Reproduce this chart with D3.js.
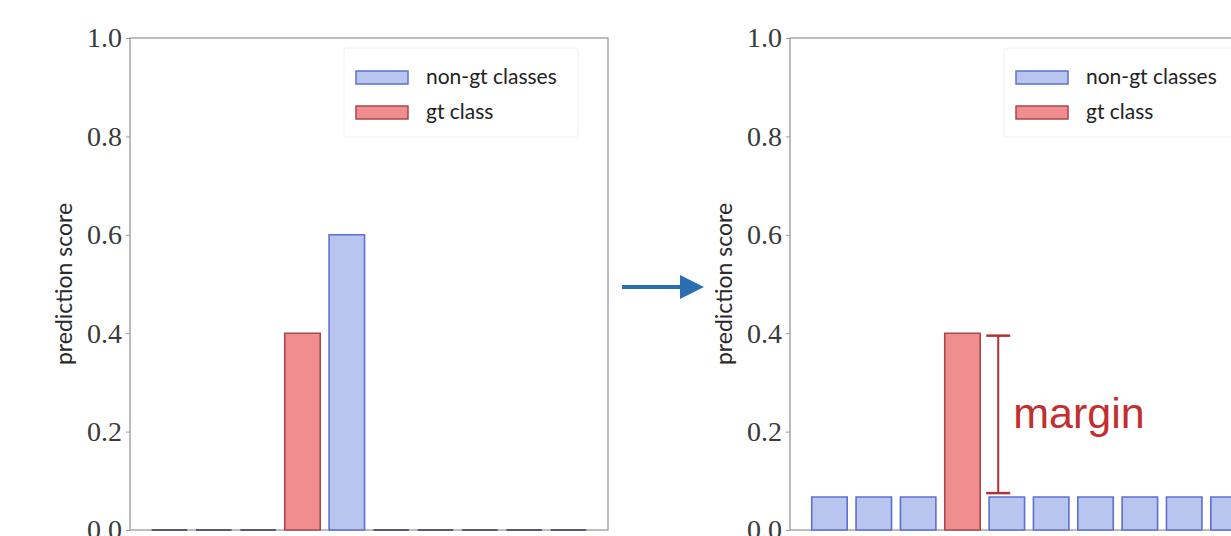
<!DOCTYPE html>
<html>
<head>
<meta charset="utf-8">
<script src="https://cdn.jsdelivr.net/npm/d3@7"></script>
<style>
  html, body { margin: 0; padding: 0; background: #fff; }
  svg { display: block; }
</style>
</head>
<body>
<svg id="chart" width="1231" height="536"></svg>
<script>
// ---- data ----
const classes = ["c0","c1","c2","c3","c4","c5","c6","c7","c8","c9"];
const gtIndex = 3;
const scoresBefore = [0, 0, 0, 0.4, 0.6, 0, 0, 0, 0, 0];
const scoresAfter = [0.067, 0.067, 0.067, 0.4, 0.067, 0.067, 0.067, 0.067, 0.067, 0.067];
const yTicks = [0.0, 0.2, 0.4, 0.6, 0.8, 1.0];
const legendLabels = ["non-gt classes", "gt class"];
const marginTop = 0.395;
const marginBottom = 0.075;
const marginLabel = "margin";
const yLabel = "prediction score";

// ---- styles ----
const blueFill = "#b8c5ee", blueEdge = "#5d70d0";
const redFill = "#f08d8f", redEdge = "#a8484b";
const spineColor = "#9a9a9a";

const svg = d3.select("#chart");
const PW = 478, PH = 492, PTOP = 38;

function panel(x0, scores) {
  const g = svg.append("g").attr("transform", `translate(${x0},${PTOP})`);
  const x = d3.scaleLinear().domain([-0.89, 9.89]).range([0, PW]);
  const y = d3.scaleLinear().domain([0, 1]).range([PH, 0]);
  const bw = x(0.8) - x(0);

  g.append("rect").attr("x", 0).attr("y", 0).attr("width", PW).attr("height", PH)
    .attr("fill", "none").attr("stroke", spineColor).attr("stroke-width", 1.3);

  g.selectAll("path.bar").data(scores).join("path")
    .attr("class", "bar")
    .attr("d", (d, i) => {
      const l = x(i) - bw / 2, r = x(i) + bw / 2, t = y(d), b = y(0);
      return `M${l},${b}L${l},${t}L${r},${t}L${r},${b}Z`;
    })
    .attr("fill", (d, i) => i === gtIndex ? redFill : blueFill)
    .attr("stroke", (d, i) => i === gtIndex ? redEdge : (d === 0 ? "#555a70" : blueEdge))
    .attr("stroke-width", (d) => d === 0 ? 2 : 1.6);

  const ax = g.append("g").call(
    d3.axisLeft(y).tickValues(yTicks).tickFormat(d3.format(".1f")).tickSize(4).tickPadding(4)
  );
  ax.select(".domain").remove();
  ax.selectAll(".tick line").attr("stroke", spineColor);
  ax.selectAll(".tick text")
    .attr("font-family", "'Liberation Serif', 'DejaVu Serif', serif")
    .attr("font-size", 28).attr("fill", "#3a3a3a");

  g.append("text")
    .attr("transform", `translate(${-58},${PH / 2}) rotate(-90)`)
    .attr("text-anchor", "middle")
    .attr("font-family", "Lato, 'Open Sans', sans-serif")
    .attr("font-size", 23).attr("fill", "#2a2a2a")
    .text(yLabel);

  const lg = g.append("g").attr("transform", "translate(214,10)");
  lg.append("rect").attr("x", 0).attr("y", 0).attr("width", 234).attr("height", 89)
    .attr("rx", 3).attr("fill", "#fff").attr("stroke", "#f0f0f0");
  legendLabels.forEach((lab, i) => {
    const yy = 23 + i * 35;
    lg.append("rect").attr("x", 12).attr("y", yy).attr("width", 52).attr("height", 13)
      .attr("fill", i === 0 ? blueFill : redFill)
      .attr("stroke", i === 0 ? blueEdge : redEdge).attr("stroke-width", 1.5);
    lg.append("text").attr("x", 82).attr("y", yy + 13)
      .attr("font-family", "Lato, 'Open Sans', sans-serif")
      .attr("font-size", 21).attr("fill", "#222").text(lab);
  });
  return { g, x, y, bw };
}

panel(130, scoresBefore);
const right = panel(790, scoresAfter);

{
  const { g, x, y, bw } = right;
  const ex = x(gtIndex) + bw / 2 + 18;
  const col = "#b23234";
  g.append("line").attr("x1", ex).attr("x2", ex).attr("y1", y(marginTop)).attr("y2", y(marginBottom))
    .attr("stroke", col).attr("stroke-width", 2);
  [marginTop, marginBottom].forEach(v => {
    g.append("line").attr("x1", ex - 12).attr("x2", ex + 12).attr("y1", y(v)).attr("y2", y(v))
      .attr("stroke", col).attr("stroke-width", 2.5);
  });
  g.append("text").attr("x", ex + 15).attr("y", y((marginTop + marginBottom) / 2) + 14)
    .attr("font-family", "'Liberation Sans', Arial, sans-serif")
    .attr("font-size", 43).attr("fill", "#c22f2f").text(marginLabel);
}

svg.append("defs").append("marker").attr("id", "ah")
  .attr("viewBox", "0 0 10 10").attr("refX", 0).attr("refY", 5)
  .attr("markerWidth", 6).attr("markerHeight", 6).attr("markerUnits", "strokeWidth")
  .attr("orient", "auto")
  .append("path").attr("d", "M0,0L10,5L0,10Z").attr("fill", "#2a6db0");
svg.append("line").attr("x1", 622).attr("x2", 680).attr("y1", 287).attr("y2", 287)
  .attr("stroke", "#2a6db0").attr("stroke-width", 4).attr("marker-end", "url(#ah)");
</script>
</body>
</html>
